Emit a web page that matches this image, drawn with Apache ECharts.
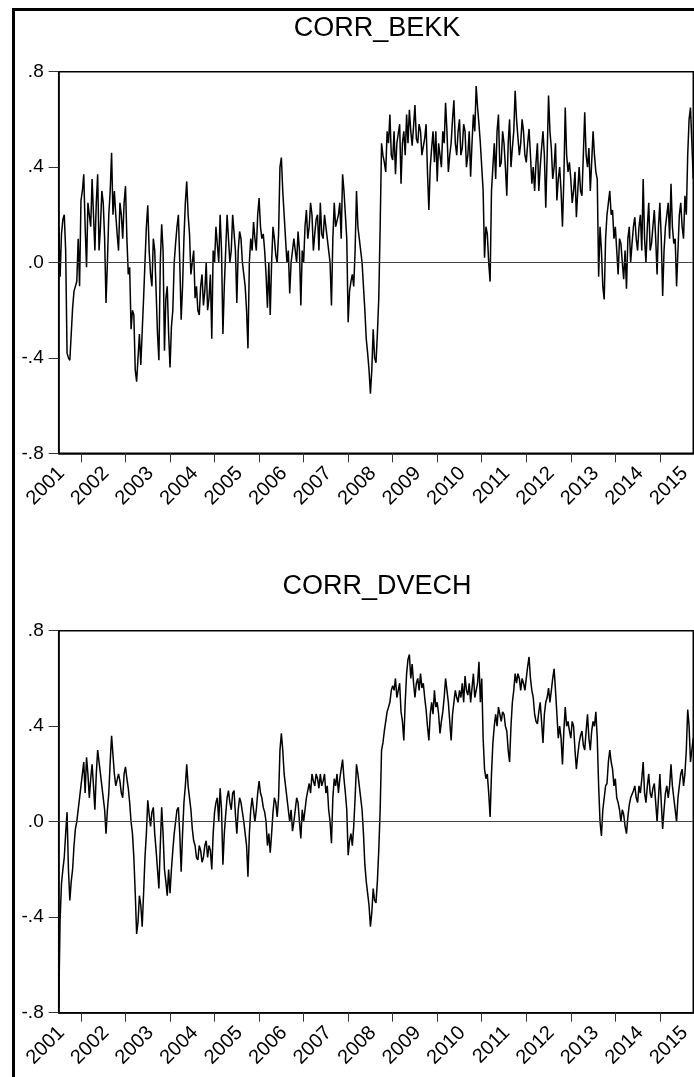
<!DOCTYPE html>
<html>
<head>
<meta charset="utf-8">
<script src="https://cdn.jsdelivr.net/npm/echarts@6.0.0/dist/echarts.min.js"></script>
<style>
  html, body { margin: 0; padding: 0; background: #fff; overflow: hidden; }
  #chart { width: 694px; height: 1077px; }
</style>
</head>
<body>
<div id="chart"></div>
<script>
// ---- Data (sampled every 1/32 year, starting mid-2001) ----
const startYear = 2001.5;
const stepYears = 1 / 32;

const corrBekk = [
  // 2001 (second half)
  0.15, -0.06, 0.12, 0.18, 0.2, 0.05, -0.38, -0.4, -0.41, -0.3, -0.19, -0.12, -0.1, -0.08, 0.1, -0.1,
  // 2002
  0.26, 0.3, 0.37, 0.15, -0.02, 0.25, 0.2, 0.15, 0.35, 0.2, 0.05, 0.25, 0.37, 0.05, 0.15, 0.3,
  0.25, 0.1, -0.17, 0.0, 0.2, 0.3, 0.46, 0.2, 0.3, 0.2, 0.12, 0.05, 0.25, 0.2, 0.1, 0.25,
  // 2003
  0.32, 0.1, -0.05, -0.02, -0.28, -0.2, -0.22, -0.45, -0.5, -0.4, -0.3, -0.43, -0.43, -0.15, 0.0, 0.15,
  0.24, 0.05, -0.05, -0.1, 0.1, 0.05, -0.12, -0.3, -0.41, 0.0, 0.16, 0.05, -0.37, -0.15, -0.1, -0.3,
  // 2004
  -0.44, -0.27, -0.2, 0.0, 0.08, 0.15, 0.2, 0.0, -0.24, -0.1, 0.1, 0.25, 0.34, 0.2, 0.12, -0.05,
  -0.05, 0.05, -0.15, -0.1, -0.2, -0.22, -0.1, -0.05, -0.18, -0.12, 0.0, -0.2, -0.15, -0.05, -0.32, 0.05,
  // 2005
  0.0, 0.15, 0.15, 0.0, 0.2, 0.05, -0.3, -0.1, 0.05, 0.2, 0.2, 0.0, 0.05, 0.2, 0.2, 0.05,
  -0.17, 0.05, 0.13, 0.1, 0.0, -0.05, -0.1, -0.2, -0.36, 0.0, 0.1, 0.05, 0.17, 0.1, 0.05, 0.2,
  // 2006
  0.27, 0.15, 0.1, 0.12, 0.05, -0.05, -0.19, 0.0, -0.22, 0.0, 0.15, 0.1, 0.03, 0.0, 0.12, 0.4,
  0.44, 0.3, 0.2, 0.1, 0.0, 0.05, -0.13, 0.0, 0.05, 0.1, 0.1, 0.0, 0.13, 0.05, -0.18, 0.05,
  // 2007
  0.0, 0.15, 0.22, 0.1, 0.15, 0.25, 0.2, 0.05, 0.12, 0.18, 0.2, 0.05, 0.25, 0.12, 0.1, 0.2,
  0.2, 0.1, 0.05, 0.0, -0.18, 0.1, 0.25, 0.15, 0.15, 0.2, 0.25, 0.1, 0.37, 0.3, 0.2, 0.1,
  // 2008
  -0.25, -0.12, -0.08, -0.05, -0.1, 0.05, 0.3, 0.15, 0.1, 0.05, 0.0, -0.1, -0.2, -0.32, -0.38, -0.45,
  -0.55, -0.45, -0.28, -0.4, -0.42, -0.3, -0.15, 0.15, 0.5, 0.45, 0.42, 0.38, 0.55, 0.5, 0.62, 0.45,
  // 2009
  0.43, 0.55, 0.37, 0.5, 0.5, 0.58, 0.33, 0.5, 0.55, 0.45, 0.62, 0.5, 0.64, 0.55, 0.49, 0.57,
  0.66, 0.52, 0.5, 0.58, 0.55, 0.45, 0.45, 0.52, 0.58, 0.38, 0.22, 0.4, 0.48, 0.55, 0.42, 0.55,
  // 2010
  0.34, 0.5, 0.45, 0.4, 0.55, 0.5, 0.67, 0.55, 0.38, 0.45, 0.5, 0.6, 0.68, 0.5, 0.45, 0.55,
  0.6, 0.45, 0.48, 0.58, 0.55, 0.4, 0.45, 0.55, 0.36, 0.5, 0.62, 0.55, 0.74, 0.65, 0.58, 0.5,
  // 2011
  0.4, 0.3, 0.02, 0.15, 0.12, 0.0, -0.08, 0.3, 0.4, 0.5, 0.35, 0.55, 0.62, 0.4, 0.42, 0.55,
  0.5, 0.4, 0.28, 0.5, 0.6, 0.4, 0.48, 0.55, 0.72, 0.6, 0.6, 0.45, 0.5, 0.6, 0.55, 0.45,
  // 2012
  0.42, 0.5, 0.56, 0.45, 0.33, 0.4, 0.3, 0.42, 0.5, 0.3, 0.4, 0.48, 0.55, 0.45, 0.23, 0.45,
  0.7, 0.55, 0.48, 0.35, 0.4, 0.5, 0.26, 0.35, 0.4, 0.3, 0.15, 0.35, 0.65, 0.45, 0.38, 0.42,
  // 2013
  0.35, 0.25, 0.3, 0.38, 0.19, 0.3, 0.4, 0.3, 0.28, 0.45, 0.63, 0.45, 0.4, 0.48, 0.3, 0.42,
  0.55, 0.45, 0.38, 0.35, -0.06, 0.15, 0.05, -0.1, -0.155, 0.1, 0.2, 0.25, 0.3, 0.2, 0.22, 0.1,
  // 2014
  0.15, 0.05, -0.05, 0.1, 0.08, 0.0, -0.07, 0.05, -0.11, 0.1, 0.15, 0.0, 0.08, 0.15, 0.19, 0.1,
  0.05, 0.15, 0.2, 0.05, 0.35, 0.1, 0.0, 0.15, 0.25, 0.05, 0.08, 0.15, 0.22, 0.1, -0.05, 0.15,
  // 2015 (to ~Sep)
  0.25, 0.1, -0.14, 0.05, 0.15, 0.2, 0.25, 0.1, 0.33, 0.15, 0.08, 0.1, -0.1, 0.05, 0.2, 0.25,
  0.15, 0.1, 0.28, 0.2, 0.45, 0.6, 0.65, 0.5, 0.35
];

const corrDvech = [
  // 2001 (second half)
  -0.78, -0.41, -0.26, -0.2, -0.15, -0.05, 0.04, -0.2, -0.33, -0.25, -0.2, -0.1, -0.03, 0.0, 0.0, 0.1,
  // 2002
  0.15, 0.2, 0.25, 0.12, 0.27, 0.2, 0.1, 0.18, 0.24, 0.15, 0.05, 0.2, 0.3, 0.25, 0.2, 0.15,
  0.1, 0.05, -0.05, 0.05, 0.12, 0.25, 0.36, 0.28, 0.2, 0.15, 0.15, 0.2, 0.17, 0.12, 0.1, 0.2,
  // 2003
  0.23, 0.18, 0.14, 0.08, 0.0, -0.05, -0.15, -0.3, -0.47, -0.42, -0.31, -0.35, -0.44, -0.3, -0.15, -0.05,
  0.09, 0.03, -0.02, 0.04, 0.06, -0.05, -0.12, -0.2, -0.28, -0.1, 0.06, -0.05, -0.2, -0.25, -0.31, -0.2,
  // 2004
  -0.3, -0.2, -0.12, -0.05, 0.0, 0.05, 0.06, -0.05, -0.21, -0.05, 0.08, 0.15, 0.24, 0.15, 0.1, 0.05,
  -0.03, -0.08, -0.1, -0.15, -0.16, -0.1, -0.12, -0.17, -0.15, -0.1, -0.08, -0.15, -0.1, -0.12, -0.2, -0.05,
  // 2005
  0.04, 0.08, 0.1, 0.0, 0.14, 0.05, -0.18, -0.05, 0.03, 0.1, 0.13, 0.08, 0.05, 0.12, 0.13, 0.03,
  -0.05, 0.05, 0.1, 0.08, 0.04, 0.0, -0.05, -0.1, -0.23, -0.05, 0.05, 0.1, 0.1, 0.0, 0.05, 0.12,
  // 2006
  0.17, 0.12, 0.1, 0.06, 0.04, 0.0, -0.1, -0.05, -0.13, -0.05, 0.04, 0.1, 0.08, 0.02, 0.1, 0.3,
  0.37, 0.3, 0.2, 0.15, 0.1, 0.05, 0.0, 0.05, -0.04, 0.0, 0.05, 0.1, 0.08, 0.0, -0.07, 0.05,
  // 2007
  0.0, 0.05, 0.1, 0.13, 0.16, 0.12, 0.2, 0.17, 0.15, 0.2, 0.18, 0.14, 0.2, 0.15, 0.17, 0.2,
  0.12, 0.15, 0.05, 0.0, -0.09, 0.1, 0.18, 0.15, 0.2, 0.12, 0.18, 0.22, 0.26, 0.18, 0.12, 0.05,
  // 2008
  -0.14, -0.08, -0.05, -0.1, -0.02, 0.1, 0.24, 0.2, 0.15, 0.1, 0.05, -0.05, -0.18, -0.25, -0.3, -0.35,
  -0.44, -0.38, -0.28, -0.33, -0.34, -0.25, -0.12, 0.05, 0.3, 0.33, 0.38, 0.42, 0.46, 0.48, 0.5, 0.55,
  // 2009
  0.57, 0.55, 0.6, 0.52, 0.52, 0.58, 0.46, 0.42, 0.34, 0.5, 0.62, 0.68, 0.7, 0.6, 0.66, 0.58,
  0.52, 0.58, 0.6, 0.55, 0.62, 0.56, 0.58, 0.52, 0.47, 0.4, 0.34, 0.45, 0.5, 0.45, 0.55, 0.48,
  // 2010
  0.5, 0.45, 0.37, 0.42, 0.46, 0.52, 0.6, 0.55, 0.5, 0.42, 0.34, 0.45, 0.5, 0.55, 0.52, 0.5,
  0.55, 0.52, 0.58, 0.5, 0.61, 0.55, 0.53, 0.58, 0.5, 0.56, 0.62, 0.52, 0.55, 0.58, 0.67, 0.5,
  // 2011
  0.6, 0.35, 0.22, 0.18, 0.2, 0.12, 0.02, 0.2, 0.33, 0.4, 0.45, 0.4, 0.48, 0.45, 0.42, 0.46,
  0.45, 0.4, 0.38, 0.3, 0.25, 0.4, 0.5, 0.55, 0.62, 0.58, 0.62, 0.6, 0.55, 0.6, 0.58, 0.55,
  // 2012
  0.6, 0.65, 0.69, 0.6, 0.55, 0.52, 0.45, 0.42, 0.41, 0.46, 0.5, 0.42, 0.33, 0.45, 0.5, 0.52,
  0.56, 0.5, 0.55, 0.6, 0.64, 0.55, 0.45, 0.35, 0.4, 0.35, 0.24, 0.38, 0.48, 0.4, 0.42, 0.38,
  // 2013
  0.35, 0.42, 0.4, 0.3, 0.22, 0.28, 0.33, 0.36, 0.38, 0.32, 0.3, 0.38, 0.45, 0.35, 0.3, 0.38,
  0.42, 0.4, 0.46, 0.35, 0.15, 0.0, -0.06, 0.05, 0.1, 0.15, 0.16, 0.25, 0.3, 0.25, 0.22, 0.15,
  // 2014
  0.18, 0.1, 0.08, 0.05, 0.0, 0.05, 0.03, -0.02, -0.05, 0.02, 0.07, 0.1, 0.1, 0.13, 0.15, 0.1,
  0.08, 0.15, 0.12, 0.18, 0.25, 0.12, 0.08, 0.15, 0.2, 0.12, 0.1, 0.14, 0.16, 0.08, 0.0, 0.1,
  // 2015 (to ~Sep)
  0.2, 0.08, -0.03, 0.05, 0.12, 0.15, 0.1, 0.15, 0.24, 0.15, 0.1, 0.05, 0.0, 0.1, 0.15, 0.2,
  0.22, 0.15, 0.2, 0.3, 0.47, 0.4, 0.25, 0.3, 0.35
];

const yearLabels = ['2001','2002','2003','2004','2005','2006','2007','2008','2009','2010','2011','2012','2013','2014','2015'];
const yearTicks = [2002,2003,2004,2005,2006,2007,2008,2009,2010,2011,2012,2013,2014,2015];
const yTickValues = [-0.8, -0.4, 0, 0.4, 0.8];
const yTickLabels = ['-.8', '-.4', '.0', '.4', '.8'];
const panelTitles = ['CORR_BEKK', 'CORR_DVECH'];

// ---- Build ----
const FONT = 'Liberation Sans, Arial, sans-serif';
const toPairs = arr => arr.map((v, i) => [startYear + i * stepYears, v]);
const labelPositions = yearLabels.map(y => Number(y) + 0.56);
const xMax = startYear + (corrBekk.length - 1) * stepYears;

const grids = [
  { left: 58.7, top: 71.7, width: 637, height: 381.6 },
  { left: 58.7, top: 630.7, width: 637, height: 382 }
];

function xAxisFor(i) {
  return {
    type: 'value', gridIndex: i, min: startYear, max: xMax,
    axisLine: { show: true, onZero: false, lineStyle: { color: '#000', width: 1.5 } },
    axisTick: { show: true, inside: false, length: 9, customValues: yearTicks,
                lineStyle: { color: '#333', width: 1 } },
    axisLabel: {
      customValues: labelPositions, rotate: 45, margin: 17,
      showMinLabel: true, showMaxLabel: true, hideOverlap: false,
      formatter: v => yearLabels[Math.floor(v) - 2001],
      fontSize: 20, fontFamily: FONT, color: '#000'
    },
    splitLine: { show: false }
  };
}
function yAxisFor(i) {
  return {
    type: 'value', gridIndex: i, min: -0.8, max: 0.8, interval: 0.4,
    axisLine: { show: true, onZero: false, lineStyle: { color: '#000', width: 1.5 } },
    axisTick: { show: true, inside: false, length: 10, lineStyle: { color: '#333', width: 1 } },
    axisLabel: {
      margin: 15, fontSize: 19, fontFamily: FONT, color: '#000',
      formatter: v => {
        const idx = yTickValues.findIndex(t => Math.abs(t - v) < 1e-9);
        return idx >= 0 ? yTickLabels[idx] : '';
      }
    },
    splitLine: { show: false }
  };
}
function seriesFor(i, data) {
  return {
    type: 'line', xAxisIndex: i, yAxisIndex: i,
    data: toPairs(data), symbol: 'none', smooth: false,
    lineStyle: { color: '#000', width: 1.5 },
    itemStyle: { color: '#000' },
    animation: false,
    markLine: {
      silent: true, symbol: 'none', label: { show: false },
      lineStyle: { color: '#444', width: 1, type: 'solid' },
      data: [{ yAxis: 0 }], animation: false
    },
    z: 3
  };
}

const chart = echarts.init(document.getElementById('chart'), null, { renderer: 'canvas' });
chart.setOption({
  animation: false,
  backgroundColor: '#fff',
  title: [
    { text: panelTitles[0], left: 377, top: 15, padding: 0, textAlign: 'center',
      textStyle: { fontSize: 27, fontWeight: 'normal', fontFamily: FONT, color: '#000' } },
    { text: panelTitles[1], left: 377, top: 573, padding: 0, textAlign: 'center',
      textStyle: { fontSize: 27, fontWeight: 'normal', fontFamily: FONT, color: '#000' } }
  ],
  grid: grids.map(g => Object.assign({ show: true, borderColor: '#000', borderWidth: 1.5,
                                       backgroundColor: 'transparent', containLabel: false }, g)),
  xAxis: [xAxisFor(0), xAxisFor(1)],
  yAxis: [yAxisFor(0), yAxisFor(1)],
  series: [seriesFor(0, corrBekk), seriesFor(1, corrDvech)],
  graphic: [{
    type: 'rect', silent: true, z: 100,
    shape: { x: 13.5, y: 9.5, width: 720, height: 1100 },
    style: { fill: 'none', stroke: '#000', lineWidth: 3 }
  }]
});
</script>
</body>
</html>
